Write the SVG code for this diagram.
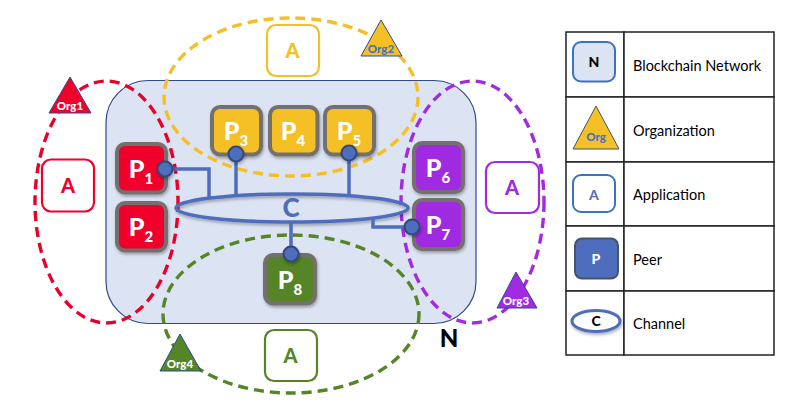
<svg xmlns="http://www.w3.org/2000/svg" width="796" height="409" viewBox="0 0 796 409">
<defs>
<filter id="sh" x="-20%" y="-20%" width="150%" height="150%"><feDropShadow dx="1" dy="2" stdDeviation="1.500" flood-color="#000" flood-opacity="0.300"/></filter>
</defs>
<style>
text{font-family:"Lato","Liberation Sans",sans-serif}
.org{fill:none;stroke-width:3.400;stroke-dasharray:10 6}
.peer{stroke:#747070;stroke-width:4;filter:url(#sh)}
.pl{font-size:25px;font-weight:900;fill:#fff;text-anchor:middle}
.pl tspan{font-size:15px}
.app{fill:#fff;stroke-width:2.200}
.al{font-size:20px;font-weight:900;text-anchor:middle}
.tri{stroke:#2f4a8f;stroke-width:1}
.ol{font-size:11.500px;font-weight:900;text-anchor:middle;fill:#fff}
.wire{fill:none;stroke:#4f6dbd;stroke-width:3.500}
.dot{fill:#4f6dbd;stroke:#2f4a7a;stroke-width:2;filter:url(#sh)}
.cell{fill:#fff;stroke:#222;stroke-width:1.500}
.lt{font-size:14.500px;fill:#000}
</style>
<g id="network"><rect x="106" y="80.500" width="370" height="243" rx="42" fill="#dce3f2" stroke="#2f4a8f" stroke-width="1.200"/>
<text x="449" y="347" font-size="24" font-weight="900" text-anchor="middle" fill="#000">N</text></g>
<g id="org-ellipses">
<ellipse class="org" cx="106.500" cy="202" rx="71.500" ry="121" stroke="#e8002a"/>
<ellipse class="org" cx="291" cy="97" rx="127" ry="79" stroke="#f5bf26"/>
<ellipse class="org" cx="472.500" cy="202" rx="71.500" ry="121" stroke="#a02be0"/>
<ellipse class="org" cx="291" cy="314" rx="128" ry="79" stroke="#548526"/>
</g>
<g id="P1"><rect class="peer" x="117" y="144" width="49" height="48.500" rx="8" fill="#f0002a"/><text class="pl" x="141" y="178">P<tspan dy="6">1</tspan></text></g>
<g id="P2"><rect class="peer" x="117" y="203" width="49" height="47.500" rx="8" fill="#f0002a"/><text class="pl" x="141" y="236">P<tspan dy="6">2</tspan></text></g>
<g id="P3"><rect class="peer" x="212" y="107" width="49" height="47.500" rx="8" fill="#f5bf26"/><text class="pl" x="236" y="140">P<tspan dy="6">3</tspan></text></g>
<g id="P4"><rect class="peer" x="270" y="107" width="47.500" height="47.500" rx="8" fill="#f5bf26"/><text class="pl" x="293" y="140">P<tspan dy="6">4</tspan></text></g>
<g id="P5"><rect class="peer" x="325" y="107" width="49" height="47.500" rx="8" fill="#f5bf26"/><text class="pl" x="349" y="140">P<tspan dy="6">5</tspan></text></g>
<g id="P6"><rect class="peer" x="414" y="143" width="49" height="49" rx="8" fill="#a02be0"/><text class="pl" x="438" y="177">P<tspan dy="6">6</tspan></text></g>
<g id="P7"><rect class="peer" x="414" y="200" width="49" height="49" rx="8" fill="#a02be0"/><text class="pl" x="438" y="234">P<tspan dy="6">7</tspan></text></g>
<g id="P8"><rect class="peer" x="265" y="255" width="50" height="48.500" rx="8" fill="#548526"/><text class="pl" x="290" y="289">P<tspan dy="6">8</tspan></text></g>
<g id="connectors">
<ellipse cx="292" cy="208" rx="116" ry="14" fill="none" stroke="#4f6dbd" stroke-width="3.500" filter="url(#sh)"/>
<path class="wire" d="M165 169H209V197M236 154V195M349 153V195M412 227H373V219M291 254V222"/>
<circle class="dot" cx="165" cy="169" r="7.500"/>
<circle class="dot" cx="236" cy="154" r="7.500"/>
<circle class="dot" cx="349" cy="153" r="7.500"/>
<circle class="dot" cx="412" cy="227" r="7.500"/>
<circle class="dot" cx="291" cy="254" r="7.500"/>
</g>
<g id="channel-label"><text x="291" y="217" font-size="26" font-weight="900" text-anchor="middle" fill="#4f6dbd">C</text></g>
<g id="app1"><rect class="app" x="42" y="159.500" width="52" height="52" rx="9" stroke="#f0002a"/><text class="al" x="68" y="193" fill="#f0002a">A</text></g>
<g id="app2"><rect class="app" x="267" y="25" width="52" height="51" rx="9" stroke="#f5bf26"/><text class="al" x="292.500" y="58" fill="#f5bf26">A</text></g>
<g id="app3"><rect class="app" x="486" y="162" width="53" height="51" rx="9" stroke="#a02be0"/><text class="al" x="512" y="195" fill="#a02be0">A</text></g>
<g id="app4"><rect class="app" x="265" y="330" width="52" height="51" rx="9" stroke="#548526"/><text class="al" x="290.500" y="363" fill="#548526">A</text></g>
<g id="org1"><polygon class="tri" points="70,77 49,113 91,113" fill="#f0002a"/><text class="ol" x="70" y="110">Org1</text></g>
<g id="org2"><polygon class="tri" points="381,20 361,56 402,56" fill="#f5bf26"/><text class="ol" x="381" y="53" style="fill:#4472c4">Org2</text></g>
<g id="org3"><polygon class="tri" points="516,272 497,308 537,308" fill="#a02be0"/><text class="ol" x="516" y="305">Org3</text></g>
<g id="org4"><polygon class="tri" points="180,334 160,371 201,371" fill="#548526"/><text class="ol" x="180" y="368">Org4</text></g>
<g id="legend">
<rect class="cell" x="566" y="32" width="58" height="65"/><rect class="cell" x="624" y="32" width="150" height="65"/>
<rect class="cell" x="566" y="97" width="58" height="65"/><rect class="cell" x="624" y="97" width="150" height="65"/>
<rect class="cell" x="566" y="162" width="58" height="64"/><rect class="cell" x="624" y="162" width="150" height="64"/>
<rect class="cell" x="566" y="226" width="58" height="65"/><rect class="cell" x="624" y="226" width="150" height="65"/>
<rect class="cell" x="566" y="291" width="58" height="64"/><rect class="cell" x="624" y="291" width="150" height="64"/>
<text class="lt" x="633" y="71">Blockchain Network</text>
<text class="lt" x="633" y="136">Organization</text>
<text class="lt" x="633" y="200">Application</text>
<text class="lt" x="633" y="265">Peer</text>
<text class="lt" x="633" y="329">Channel</text>
</g>
<g id="legend-network"><rect x="573" y="42" width="42" height="39.500" rx="8" fill="#dce3f2" stroke="#3b73c4" stroke-width="2"/><text x="594" y="67" font-size="14" font-weight="900" text-anchor="middle">N</text></g>
<g id="legend-org"><polygon points="596,106 573,149 619,149" fill="#f5bf26" stroke="#44546a" stroke-width="1"/><text x="596" y="141" font-size="11.500" font-weight="900" text-anchor="middle" fill="#4472c4">Org</text></g>
<g id="legend-app"><rect x="573" y="175" width="42" height="37" rx="8" fill="#fff" stroke="#3b73c4" stroke-width="2"/><text x="594" y="200" font-size="14" font-weight="900" text-anchor="middle" fill="#5a6fc0">A</text></g>
<g id="legend-peer"><rect x="575" y="238.500" width="43" height="40" rx="7" fill="#4f6dbd" stroke="#44546a" stroke-width="2"/><text x="596" y="264" font-size="14" font-weight="900" text-anchor="middle" fill="#fff">P</text></g>
<g id="legend-channel"><ellipse cx="596" cy="321" rx="24" ry="10.500" fill="#fff" stroke="#4f6dbd" stroke-width="3" filter="url(#sh)"/><text x="596" y="326" font-size="14" font-weight="900" text-anchor="middle">C</text></g>
</svg>
